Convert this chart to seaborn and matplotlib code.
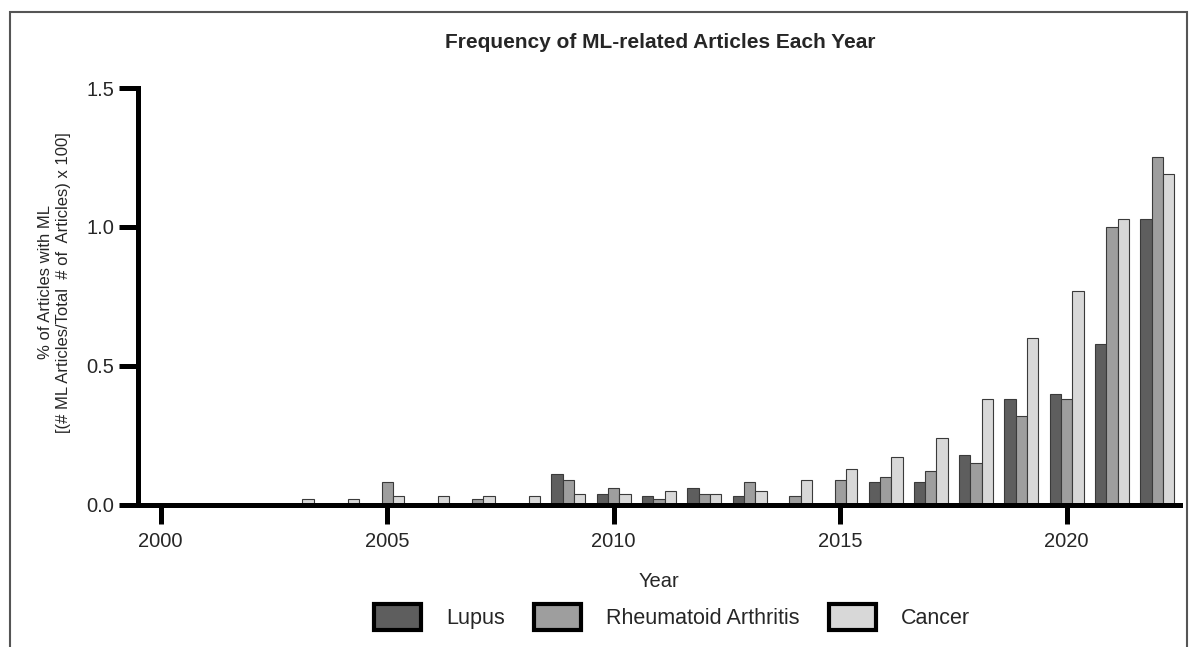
import numpy as np
import pandas as pd
import seaborn as sns
import matplotlib.pyplot as plt
from matplotlib.patches import Patch, Rectangle

# данные (% статей с ML по годам)
years = list(range(2000, 2023))
lupus = [0, 0, 0, 0, 0, 0, 0, 0, 0, 0.11, 0.04, 0.03, 0.06, 0.03, 0, 0,
         0.08, 0.08, 0.18, 0.38, 0.40, 0.58, 1.03]
ra = [0, 0, 0, 0, 0, 0.08, 0, 0.02, 0, 0.09, 0.06, 0.02, 0.04, 0.08, 0.03, 0.09,
      0.10, 0.12, 0.15, 0.32, 0.38, 1.00, 1.25]
cancer = [0, 0, 0, 0.02, 0.02, 0.03, 0.03, 0.03, 0.03, 0.04, 0.04, 0.05, 0.04, 0.05,
          0.09, 0.13, 0.17, 0.24, 0.38, 0.60, 0.77, 1.03, 1.19]
diseases = ['Lupus', 'Rheumatoid Arthritis', 'Cancer']
colors = ['#5e5e5e', '#9e9e9e', '#d8d8d8']
tick_years = years[::5]

# длинный формат для seaborn
df = pd.DataFrame({
    'Year': years * 3,
    'value': lupus + ra + cancer,
    'Disease': [d for d in diseases for _ in years],
})

sns.set_style('white')
plt.rcParams['font.family'] = ['Liberation Sans', 'DejaVu Sans']

fig = plt.figure(figsize=(11.92, 6.47), dpi=100)
ax = fig.add_axes([138 / 1192, 142.3 / 647, (1180 - 138) / 1192, (504.7 - 88) / 647])

sns.barplot(data=df, x='Year', y='value', hue='Disease', hue_order=diseases,
            palette=colors, width=0.75, edgecolor='#3a3a3a', linewidth=0.8,
            legend=False, ax=ax)

ax.set_xlim(-0.5, len(years) - 0.5)
ax.set_ylim(0, 1.5)
ax.set_xticks([years.index(y) for y in tick_years])
ax.set_xticklabels([str(y) for y in tick_years])
ax.set_yticks([0, 0.5, 1.0, 1.5])
ax.set_yticklabels(['0.0', '0.5', '1.0', '1.5'])

for s in ['top', 'right']:
    ax.spines[s].set_visible(False)
for s in ['left', 'bottom']:
    ax.spines[s].set_linewidth(3.6)
    ax.spines[s].set_color('black')

ax.tick_params(axis='both', length=14, width=3.6, color='black', labelsize=14.5,
               direction='out')
ax.tick_params(axis='x', pad=6, bottom=True)
ax.tick_params(axis='y', pad=3, left=True)

ax.set_ylabel('% of Articles with ML\n[(# ML Articles/Total  # of  Articles) x 100]',
              fontsize=12, linespacing=1.25)
ax.yaxis.set_label_coords(-0.064, 0.534)
ax.set_xlabel('Year', fontsize=14.5)
ax.xaxis.set_label_coords(0.5, -0.162)

fig.text(660 / 1192, 1 - 42 / 647, 'Frequency of ML-related Articles Each Year',
         ha='center', va='center', fontweight='bold', fontsize=15)

# легенда снизу
handles = [Patch(facecolor=c, edgecolor='black', linewidth=3) for c in colors]
fig.legend(handles, diseases, loc='center', bbox_to_anchor=(672 / 1192, 1 - 617 / 647),
           ncol=3, frameon=False, fontsize=15.5, handlelength=2.2, handleheight=1.5,
           handletextpad=1.15, columnspacing=1.35)

# серая рамка вокруг картинки
fig.patches.append(Rectangle((10 / 1192, -0.05), (1187 - 10) / 1192, 1 - 12 / 647 + 0.05,
                             transform=fig.transFigure, fill=False,
                             edgecolor='#555555', linewidth=1.5))

fig.savefig('out.png', dpi=100, facecolor='white')
